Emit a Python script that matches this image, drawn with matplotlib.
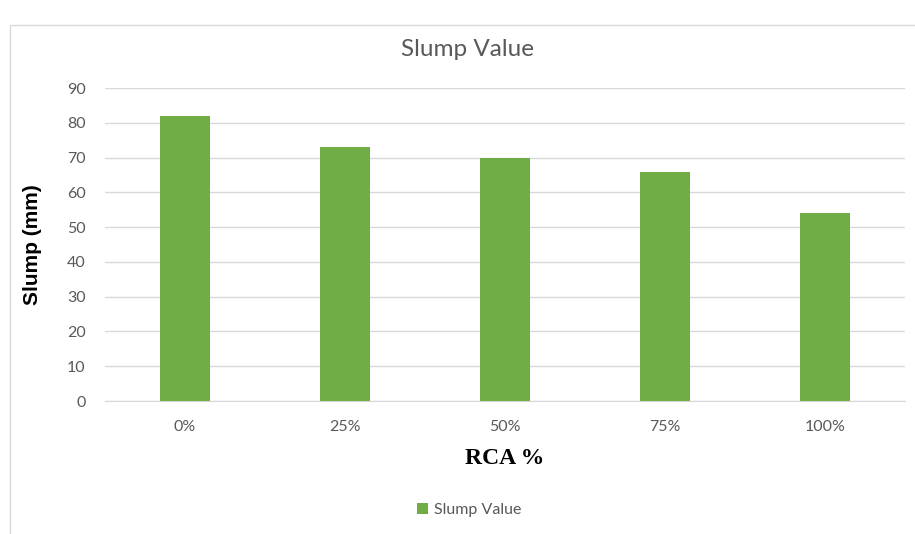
import matplotlib.pyplot as plt
from matplotlib.patches import Rectangle

categories = ["0%", "25%", "50%", "75%", "100%"]
slump = [82, 73, 70, 66, 54]
y_ticks = [0, 10, 20, 30, 40, 50, 60, 70, 80, 90]

GREEN = "#70AD47"
GRID = "#D9D9D9"
TEXT = "#595959"

plt.rcParams["font.family"] = ["Lato", "DejaVu Sans"]

fig = plt.figure(figsize=(9.15, 5.34), dpi=100)
ax = fig.add_axes([0.1148, 0.249, 0.8743, 0.586])

# chart-area border like the spreadsheet export
fig.patches.append(Rectangle((10 / 915, -0.1), 1.0, 1 - 25 / 534 + 0.1,
                             transform=fig.transFigure, fill=False,
                             edgecolor="#D9D9D9", lw=1.0))

x = range(len(categories))
ax.bar(x, slump, width=0.31, color=GREEN, label="Slump Value", zorder=3)

ax.set_xlim(-0.5, len(categories) - 0.5)
ax.set_ylim(0, 90)
ax.set_yticks(y_ticks)
ax.set_xticks(list(x))
ax.set_xticklabels(categories)
ax.yaxis.grid(True, color=GRID, lw=1.0, zorder=0)
ax.tick_params(axis="both", length=0, labelsize=11.5, labelcolor=TEXT)
ax.tick_params(axis="x", pad=14)
ax.tick_params(axis="y", pad=14)
for side in ("top", "right", "left"):
    ax.spines[side].set_visible(False)
ax.spines["bottom"].set_color(GRID)

fig.text(468 / 915, 1 - 50 / 534, "Slump Value", fontsize=17.5, color=TEXT,
         ha="center", va="center")
ax.set_ylabel("Slump (mm)", fontsize=15, fontweight="bold", color="black",
              family=["Liberation Sans", "DejaVu Sans"], labelpad=18)
ax.set_xlabel("RCA %", fontsize=17, fontweight="bold", color="black",
              family=["Liberation Serif", "DejaVu Serif"], labelpad=10)

fig.legend(loc="center", bbox_to_anchor=(0.513, 0.045), frameon=False,
           fontsize=11.5, labelcolor=TEXT, handlelength=0.7, handleheight=0.7,
           handletextpad=0.4)

fig.savefig("out.png", dpi=100)
